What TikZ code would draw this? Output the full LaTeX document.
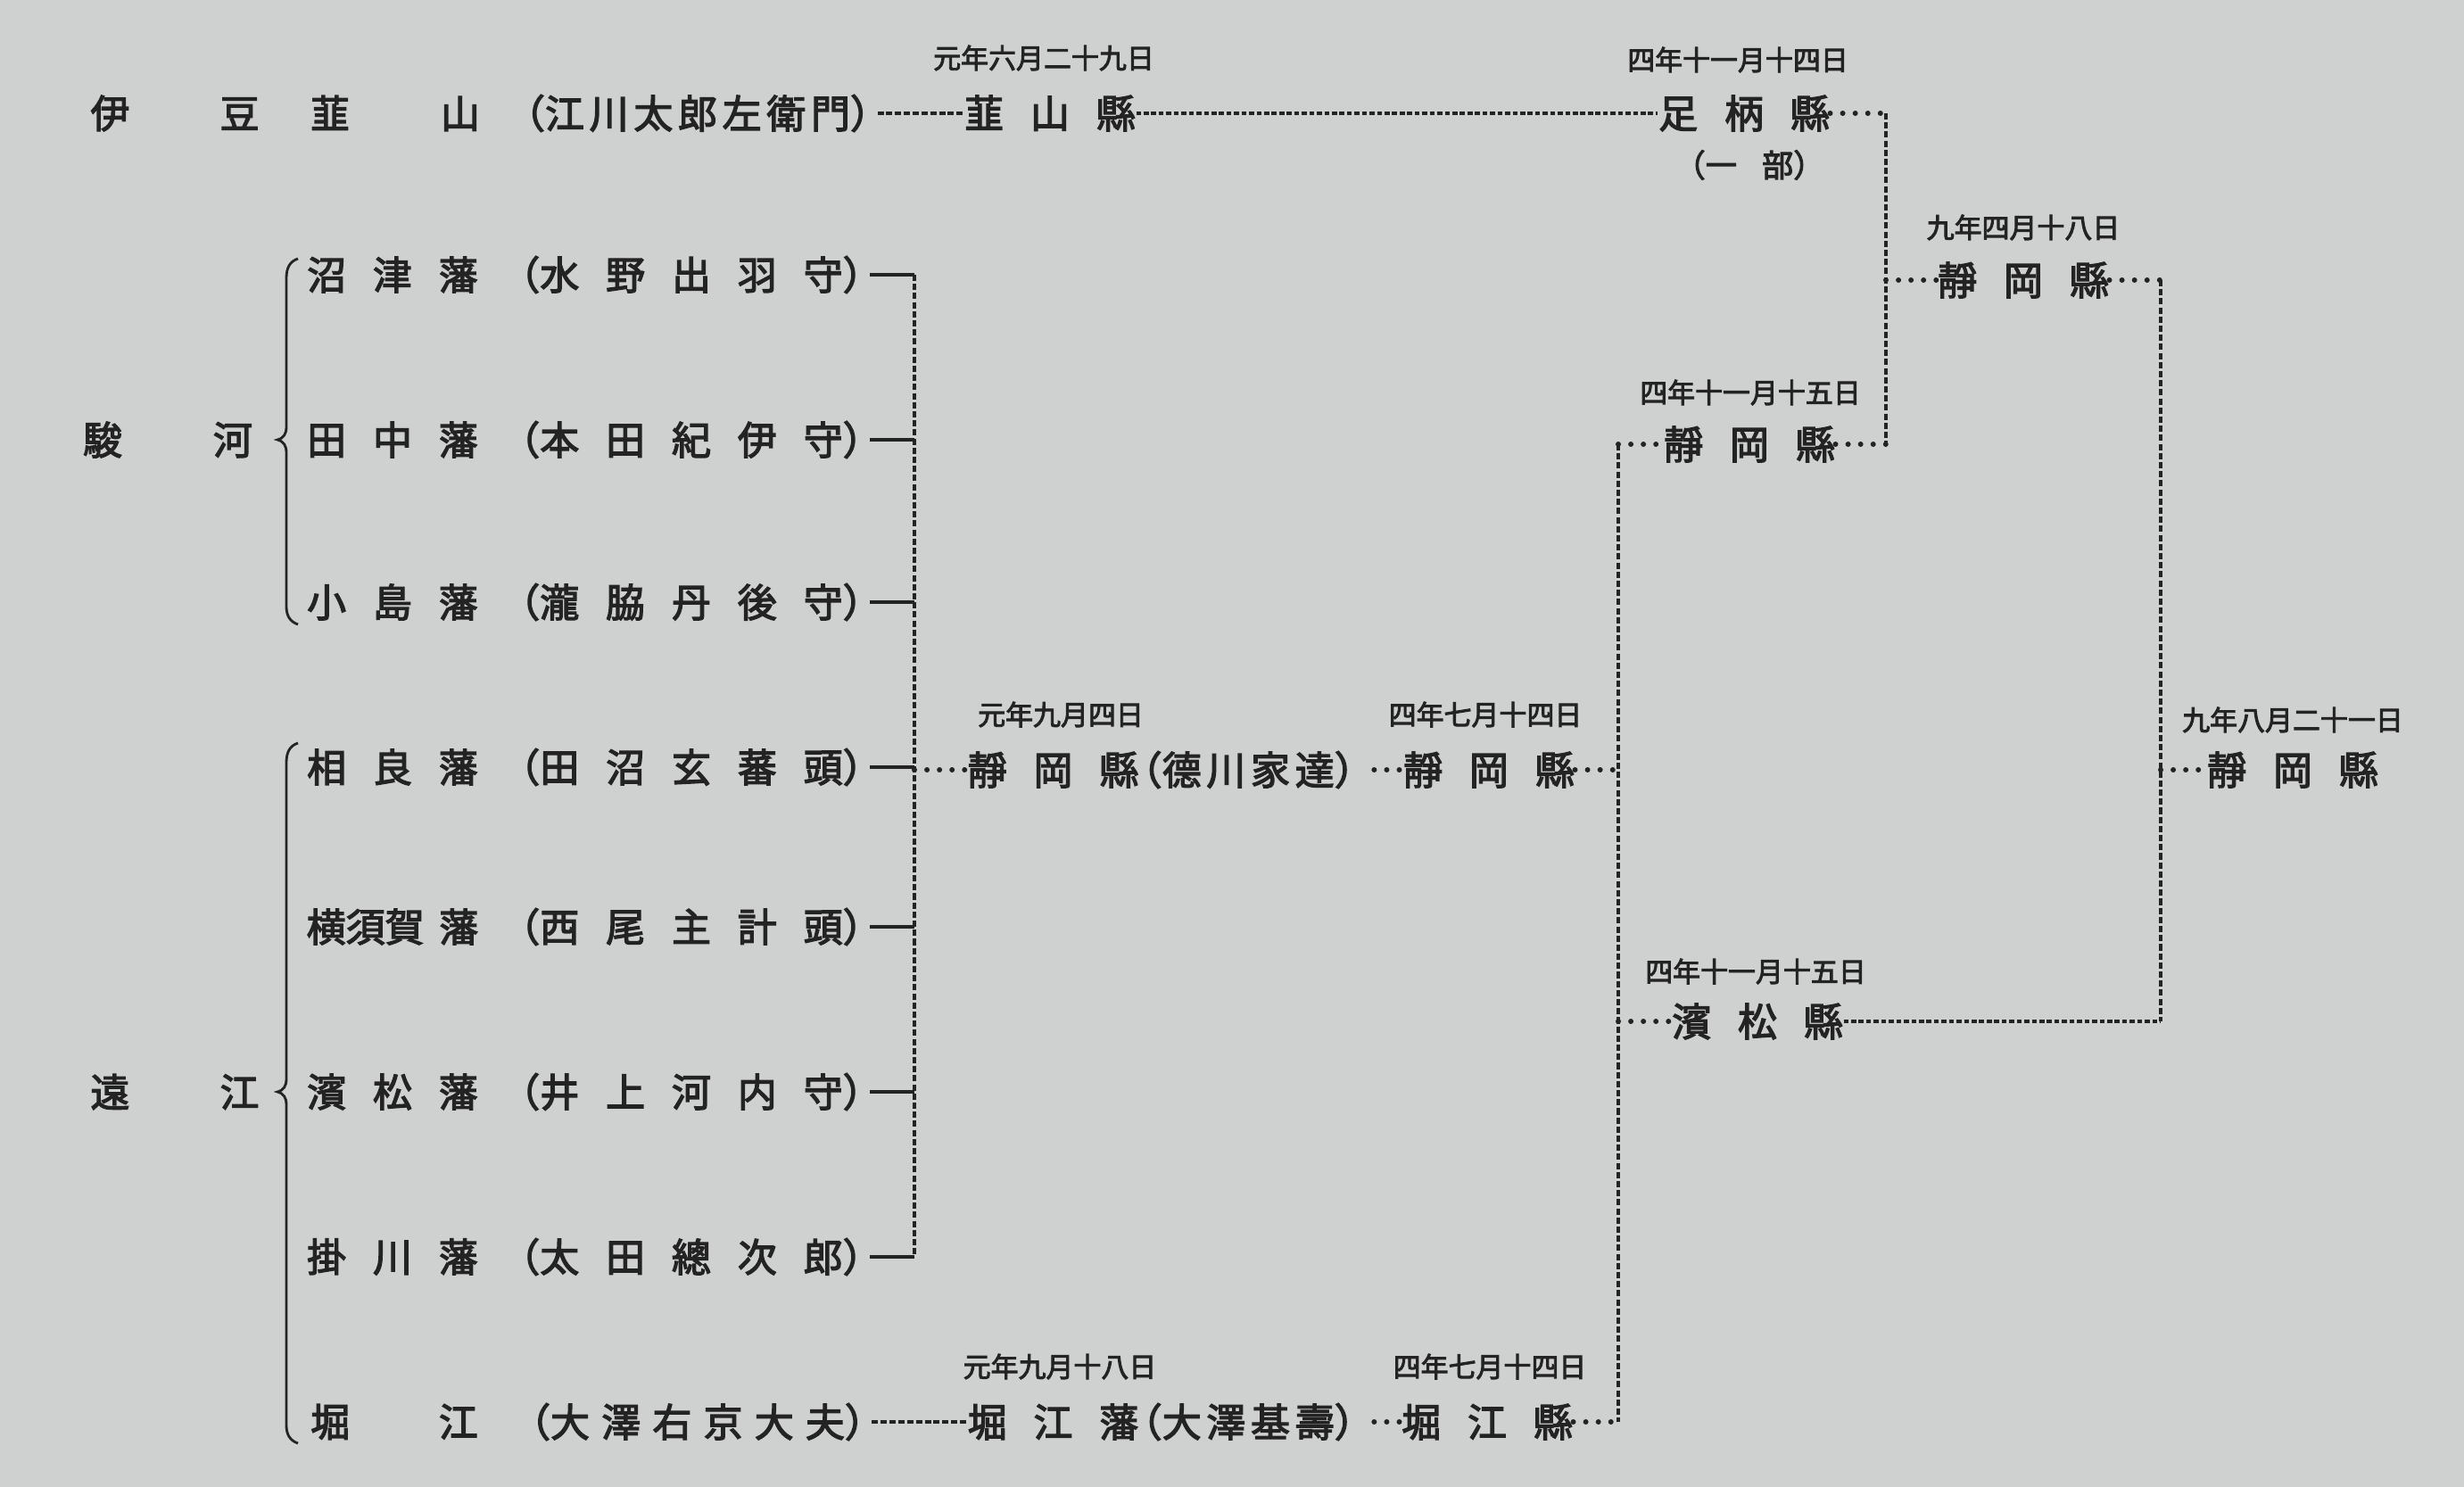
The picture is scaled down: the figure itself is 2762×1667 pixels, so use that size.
\documentclass[tikz,border=0pt]{standalone}
\usepackage{fontspec}
\newfontfamily\jp[FakeBold=3]{Noto Sans CJK JP}
\definecolor{paper}{RGB}{207,209,208}
\definecolor{ink}{RGB}{35,35,35}
\newcommand\gp{\hspace{0.68em}}
\newcommand\gs{\hspace{0.13em}}
\begin{document}
\begin{tikzpicture}[x=0.01cm,y=-0.01cm,
 lbl/.style={inner sep=0pt, text=ink, font=\jp\fontsize{12.5}{12.5}\selectfont},
 dt/.style={inner sep=0pt, text=ink, font=\jp\fontsize{8.8}{8.8}\selectfont},
 sm/.style={inner sep=0pt, text=ink, font=\jp\fontsize{10}{10}\selectfont},
 vline/.style={draw=ink, line width=0.95pt, dash pattern=on 2pt off 0.9pt},
 dline/.style={draw=ink, line width=1.2pt, dash pattern=on 2pt off 0.8pt, shorten <=-4pt},
 dlinetwo/.style={draw=ink, line width=1pt, dash pattern=on 1.6pt off 0.8pt},
 lead/.style={draw=ink, line width=1.7pt, line cap=round, dash pattern=on 0pt off 4pt},
 tick/.style={draw=ink, line width=1.2pt, shorten <=-4pt},
 bracket/.style={draw=ink, line width=0.8pt},
]
\useasboundingbox (0,0) rectangle (2762,1667);
\fill[paper] (0,0) rectangle (2762,1667);

% ---- row 0
\node[lbl] (izu) at (196,127) {伊\hspace{2.3em}豆};
\node[lbl] (nira) at (443,127) {韮\hspace{2.32em}山};
\node[lbl] (egawa) at (782,127) {（江\gs 川\gs 太\gs 郎\gs 左\gs 衛\gs 門）};
\node[lbl] (nirak) at (1177,127) {韮\gp 山\gp 縣};
\node[dt] (d1) at (1170,65) {元年六月二十九日};
\node[lbl] (ashi) at (1955,127) {足\gp 柄\gp 縣};
\node[dt] (d2) at (1948,67) {四年十一月十四日};
\node[sm] (ichibu) at (1961,185) {（一\hspace{0.8em}部）};

% ---- provinces
\node[lbl] (suruga) at (188,493) {駿\hspace{2.32em}河};
\node[lbl] (totomi) at (196,1224) {遠\hspace{2.3em}江};

% ---- han
\node[lbl] (h1) at (440,308) {沼\gp 津\gp 藩};
\node[lbl] (p1) at (775,308) {（水\gp 野\gp 出\gp 羽\gp 守）};
\node[lbl] (h2) at (440,493) {田\gp 中\gp 藩};
\node[lbl] (p2) at (775,493) {（本\gp 田\gp 紀\gp 伊\gp 守）};
\node[lbl] (h3) at (440,675) {小\gp 島\gp 藩};
\node[lbl] (p3) at (775,675) {（瀧\gp 脇\gp 丹\gp 後\gp 守）};
\node[lbl] (h4) at (440,860) {相\gp 良\gp 藩};
\node[lbl] (p4) at (775,860) {（田\gp 沼\gp 玄\gp 蕃\gp 頭）};
\node[lbl] (h5) at (440,1039) {横須賀\hspace{0.38em}藩};
\node[lbl] (p5) at (775,1039) {（西\gp 尾\gp 主\gp 計\gp 頭）};
\node[lbl] (h6) at (440,1224) {濱\gp 松\gp 藩};
\node[lbl] (p6) at (775,1224) {（井\gp 上\gp 河\gp 内\gp 守）};
\node[lbl] (h7) at (440,1409) {掛\gp 川\gp 藩};
\node[lbl] (p7) at (775,1409) {（太\gp 田\gp 總\gp 次\gp 郎）};
\node[lbl] (h8) at (442,1594) {堀\hspace{2.27em}江};
\node[lbl] (p8) at (782,1594) {（大\hspace{0.3em}澤\hspace{0.3em}右\hspace{0.3em}京\hspace{0.3em}大\hspace{0.3em}夫）};

% ---- prefectures
\node[lbl, anchor=west] (sk1) at (1084,863) {靜\gp 岡\gp 縣\hspace{-0.4em}（德\gs 川\gs 家\gs 達）};
\node[dt] (d3) at (1189,801) {元年九月四日};
\node[lbl] (sk2) at (1669,863) {靜\gp 岡\gp 縣};
\node[dt] (d4) at (1665,801) {四年七月十四日};
\node[lbl, anchor=west] (hh) at (1084,1594) {堀\gp 江\gp 藩\hspace{-0.4em}（大\gs 澤\gs 基\gs 壽）};
\node[dt] (d5) at (1188,1532) {元年九月十八日};
\node[lbl] (hk) at (1667,1594) {堀\gp 江\gp 縣};
\node[dt] (d6) at (1670,1532) {四年七月十四日};
\node[lbl] (s411) at (1961,498) {靜\gp 岡\gp 縣};
\node[dt] (d7) at (1962,440) {四年十一月十五日};
\node[lbl] (hama) at (1970,1145) {濱\gp 松\gp 縣};
\node[dt] (d8) at (1968,1089) {四年十一月十五日};
\node[lbl] (s94) at (2268,314) {靜\gp 岡\gp 縣};
\node[dt] (d9) at (2268,255) {九年四月十八日};
\node[lbl] (fin) at (2570,863) {靜\gp 岡\gp 縣};
\node[dt] (d10) at (2570,807) {九年八月二十一日};

% ---- braces
\draw[bracket] (334,290) .. controls (325,293) and (321,300) .. (321,312) -- (321,478)
  .. controls (321,487) and (318,491) .. (311,493) .. controls (318,495) and (321,499) .. (321,508)
  -- (321,680) .. controls (321,690) and (325,697) .. (334,700);
\draw[bracket] (334,833) .. controls (325,836) and (321,843) .. (321,855) -- (321,1209)
  .. controls (321,1218) and (318,1222) .. (311,1224) .. controls (318,1226) and (321,1230) .. (321,1239)
  -- (321,1598) .. controls (321,1608) and (325,1615) .. (334,1618);

% ---- connector coordinates
\coordinate (v1t) at (1025,308);
\coordinate (v1m) at (1025,863);
\coordinate (v1b) at (1025,1409);
\coordinate (t2) at (1025,493);
\coordinate (t3) at (1025,675);
\coordinate (t4) at (1025,860);
\coordinate (t5) at (1025,1039);
\coordinate (t6) at (1025,1224);
\coordinate (v2t) at (1814,498);
\coordinate (v2m) at (1814,863);
\coordinate (v2h) at (1814,1145);
\coordinate (v2b) at (1814,1594);
\coordinate (v3t) at (2114,127);
\coordinate (v3m) at (2114,314);
\coordinate (v3b) at (2114,498);
\coordinate (v4t) at (2422,314);
\coordinate (v4m) at (2422,863);
\coordinate (v4b) at (2422,1145);

% ---- connectors
\draw[dline] (egawa.east) -- (nirak.west);
\draw[dlinetwo] (nirak.east) -- (ashi.west);
\draw[lead] (ashi.east) -- (v3t);
\draw[vline] (v3t) -- (v3b);
\draw[lead] (v3m) -- (s94.west);
\draw[lead] (s411.east) -- (v3b);
\draw[lead] (s94.east) -- (v4t);
\draw[vline] (v4t) -- (v4b);
\draw[dlinetwo] (hama.east) -- (v4b);
\draw[lead] (v4m) -- (fin.west);
\draw[vline] (v2t) -- (v2b);
\draw[lead] (v2t) -- (s411.west);
\draw[lead] (sk2.east) -- (v2m);
\draw[lead] (v2h) -- (hama.west);
\draw[lead] (hk.east) -- (v2b);
\draw[vline] (v1t) -- (v1b);
\draw[tick] (p1.east) -- (v1t);
\draw[tick] (p2.east) -- (t2);
\draw[tick] (p3.east) -- (t3);
\draw[tick] (p4.east) -- (t4);
\draw[tick] (p5.east) -- (t5);
\draw[tick] (p6.east) -- (t6);
\draw[tick] (p7.east) -- (v1b);
\draw[lead] (v1m) -- (sk1.west);
\draw[lead] (sk1.east) -- (sk2.west);
\draw[dline] (p8.east) -- (hh.west);
\draw[lead] (hh.east) -- (hk.west);
\end{tikzpicture}
\end{document}
